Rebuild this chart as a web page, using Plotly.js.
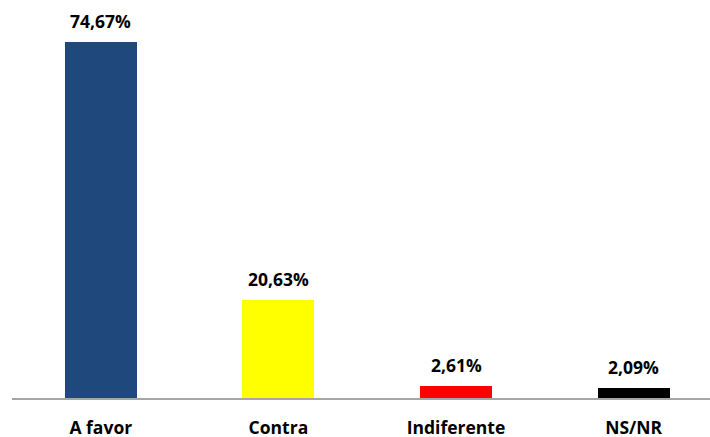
<!DOCTYPE html>
<html>
<head>
<meta charset="utf-8">
<script src="https://cdn.plot.ly/plotly-3.0.1.min.js"></script>
<style>
  html, body { margin: 0; padding: 0; background: #ffffff; }
  #chart { width: 710px; height: 437px; }
</style>
</head>
<body>
<div id="chart"></div>
<script>
// Opinion shares (%)
const categories = ["A favor", "Contra", "Indiferente", "NS/NR"];
const shares = [74.67, 20.63, 2.61, 2.09];
const barColors = ["#1f497d", "#ffff00", "#ff0000", "#000000"];

// Spanish-style decimal comma for the value labels
const fmt = v => v.toFixed(2).replace(".", ",") + "%";

const valueFont = { family: "'Open Sans', sans-serif", size: 17.5, color: "#000000", weight: 700 };
const tickFont = { family: "'Open Sans', sans-serif", size: 17.5, color: "#000000", weight: 700 };

const trace = {
  type: "bar",
  x: categories,
  y: shares,
  width: 0.405,
  marker: { color: barColors, line: { width: 0 } },
  hoverinfo: "skip"
};

const annotations = categories.map((c, i) => ({
  x: c,
  y: shares[i],
  xref: "x",
  yref: "y",
  text: "<b>" + fmt(shares[i]) + "</b>",
  showarrow: false,
  yanchor: "bottom",
  yshift: 7,
  font: valueFont
}));

const layout = {
  width: 710,
  height: 437,
  margin: { l: 12, r: 0, t: 18, b: 39 },
  paper_bgcolor: "#ffffff",
  plot_bgcolor: "#ffffff",
  showlegend: false,
  bargap: 0,
  xaxis: {
    type: "category",
    range: [-0.5, 3.43],
    showgrid: false,
    zeroline: false,
    showline: true,
    linecolor: "#a6a6a6",
    linewidth: 1.5,
    ticks: "",
    ticklabelstandoff: 13,
    tickfont: tickFont
  },
  yaxis: {
    range: [0, 79.75],
    visible: false,
    showgrid: false,
    zeroline: false
  },
  annotations: annotations
};

Plotly.newPlot("chart", [trace], layout, { displayModeBar: false, staticPlot: true });
</script>
</body>
</html>
